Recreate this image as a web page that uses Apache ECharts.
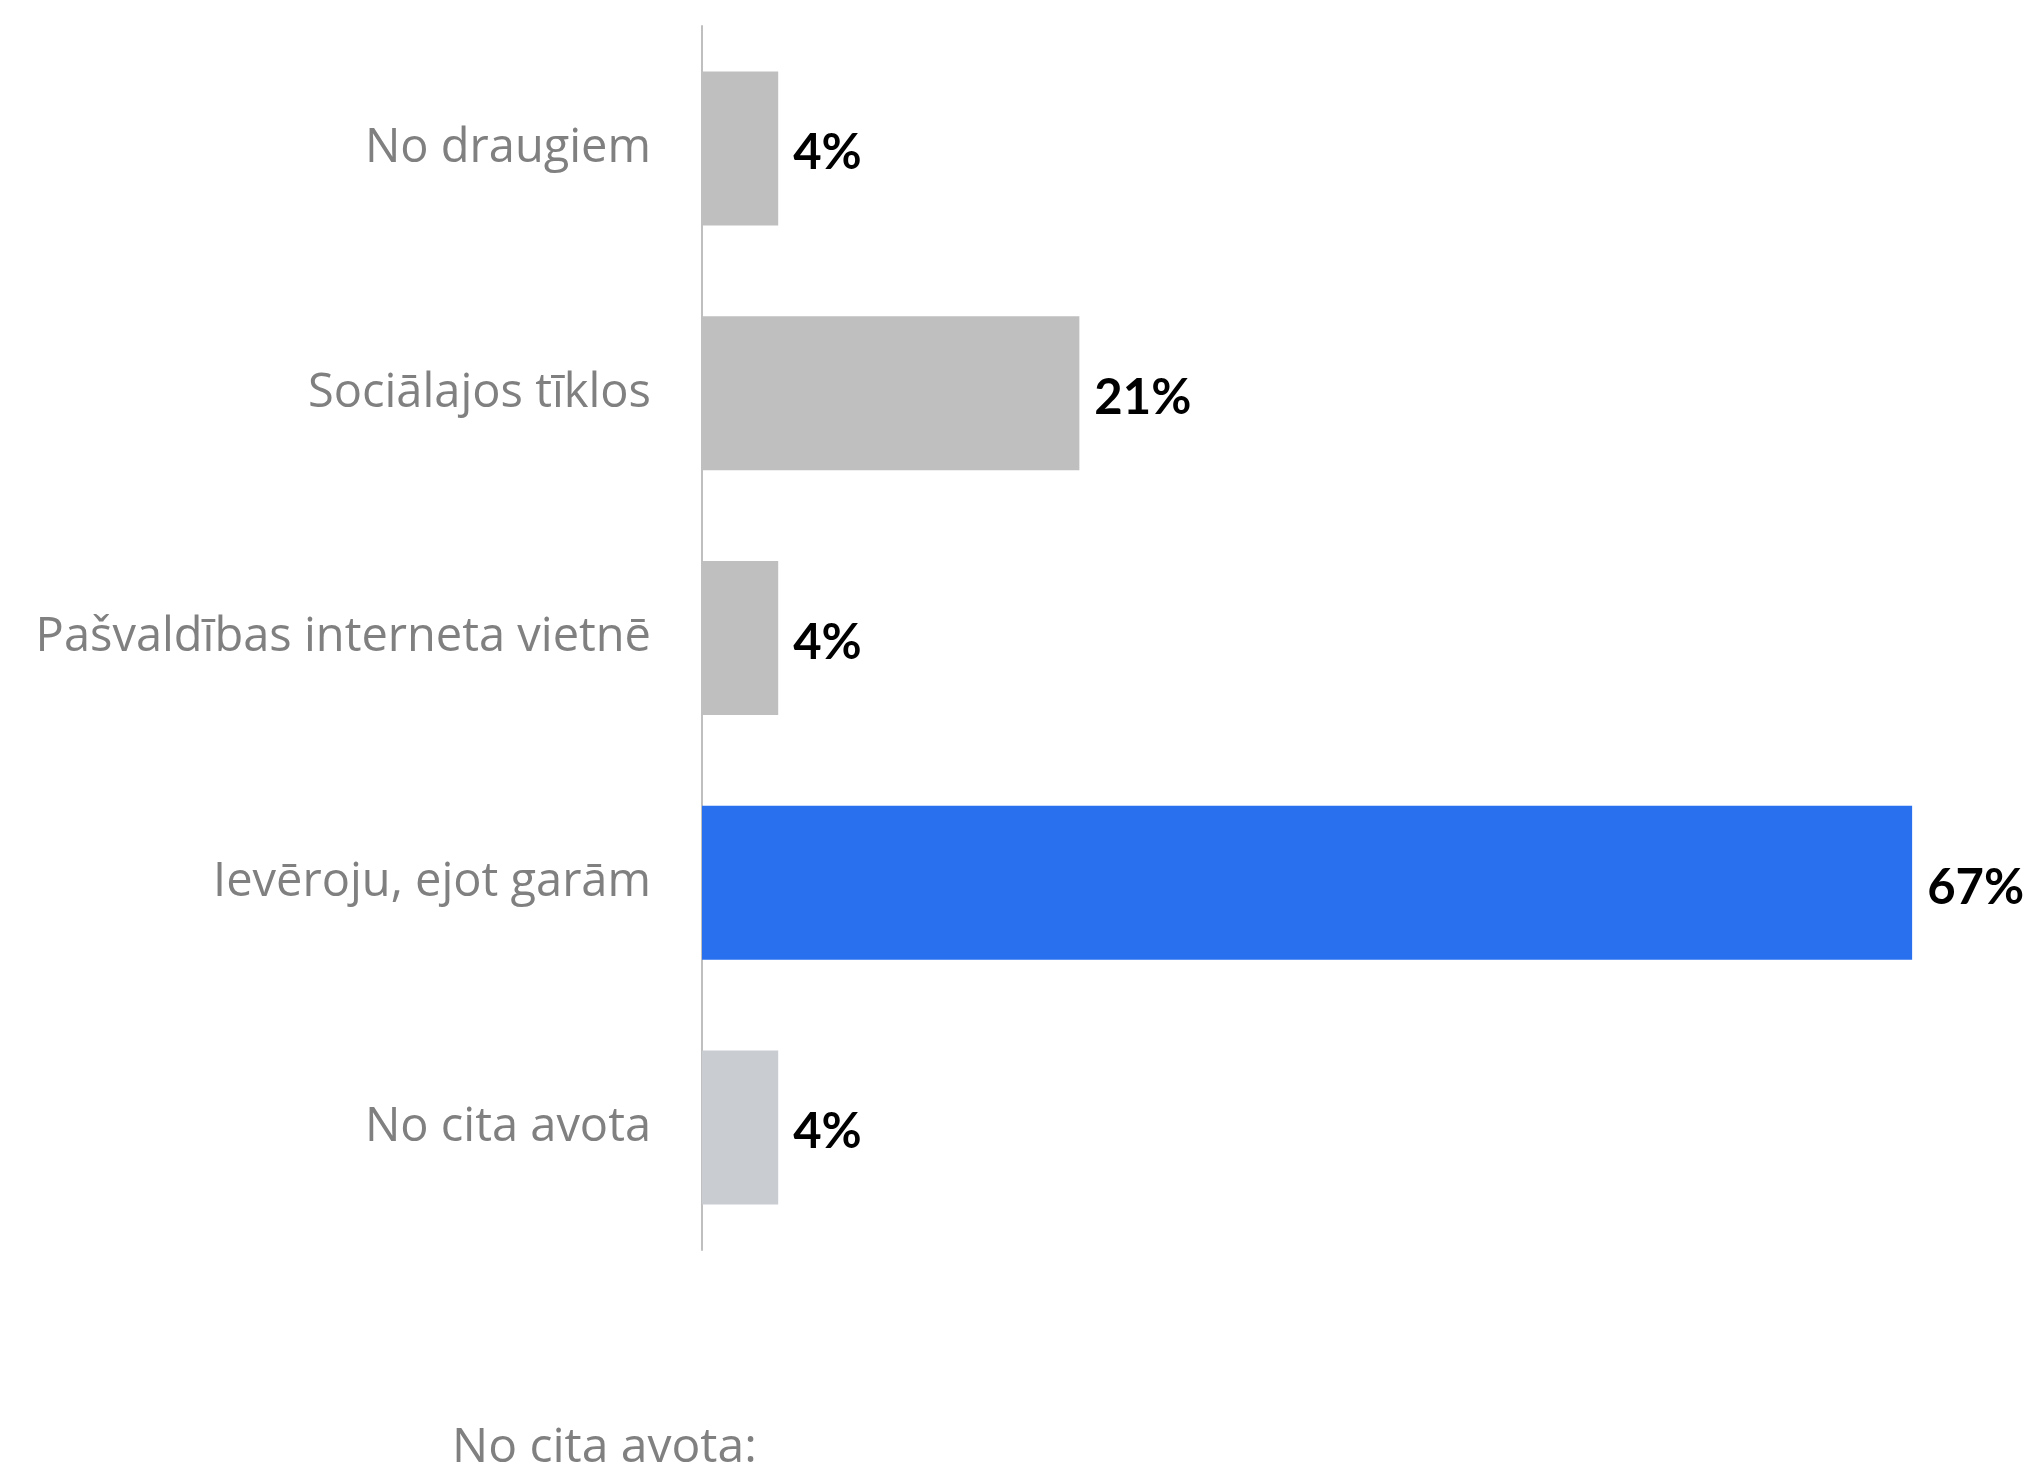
<!DOCTYPE html>
<html>
<head>
<meta charset="utf-8">
<script src="https://cdn.jsdelivr.net/npm/echarts@6/dist/echarts.min.js"></script>
<style>
  html, body { margin: 0; padding: 0; background: #fff; }
  #chart { width: 2042px; height: 1471px; }
</style>
</head>
<body>
<div id="chart"></div>
<script>
// data
const categories = [
  "No draugiem",
  "Sociālajos tīklos",
  "Pašvaldības interneta vietnē",
  "Ievēroju, ejot garām",
  "No cita avota"
];
const values = [4.2, 20.8, 4.2, 66.7, 4.2];
const barColors = ["#BFBFBF", "#BFBFBF", "#BFBFBF", "#2870EE", "#C9CCD1"];
const footnote = "No cita avota:";

const chart = echarts.init(document.getElementById("chart"));

const options = {
  backgroundColor: "#fff",
  animation: false,
  grid: { left: 702, right: 70, top: 26, bottom: 221 },
  xAxis: {
    type: "value",
    min: 0,
    max: 70,
    show: false
  },
  yAxis: {
    type: "category",
    inverse: true,
    data: categories,
    axisLine: { show: true, lineStyle: { color: "#BFBFBF", width: 2 } },
    axisTick: { show: false },
    axisLabel: {
      margin: 51,
      color: "#808080",
      fontFamily: "Open Sans",
      fontSize: 47
    }
  },
  series: [
    {
      type: "bar",
      barWidth: 154,
      data: values.map((v, i) => ({ value: v, itemStyle: { color: barColors[i] } })),
      label: {
        show: true,
        position: "right",
        distance: 15,
        offset: [0, 5],
        color: "#000",
        fontFamily: "Lato",
        fontWeight: "bold",
        fontSize: 49,
        formatter: (p) => Math.round(p.value) + "%"
      }
    }
  ],
  graphic: [
    {
      type: "text",
      left: 452,
      top: 1424,
      style: {
        text: footnote,
        fill: "#808080",
        font: "48px 'Open Sans'"
      }
    }
  ]
};

chart.setOption(options);
</script>
</body>
</html>
